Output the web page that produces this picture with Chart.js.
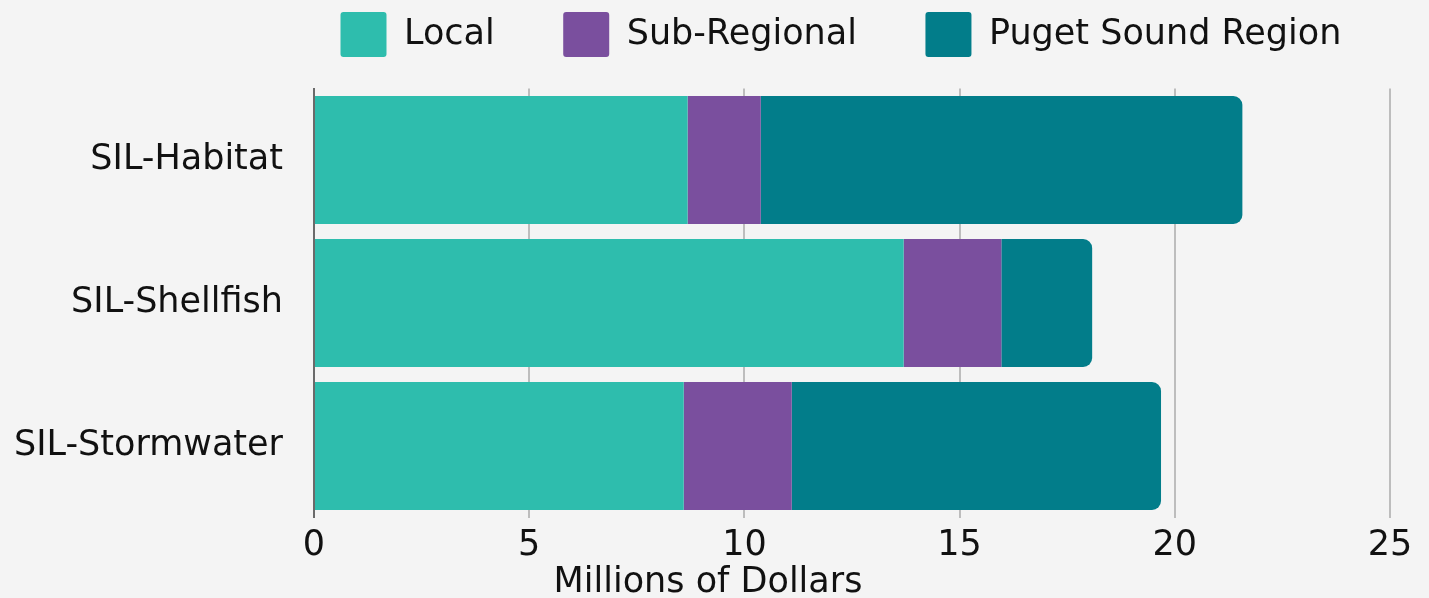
<!DOCTYPE html>
<html>
<head>
<meta charset="utf-8">
<script src="https://cdn.jsdelivr.net/npm/chart.js@4.4.1/dist/chart.umd.min.js"></script>
<style>
  html, body { margin: 0; padding: 0; background: #f4f4f4; }
  #wrap { width: 1429px; height: 598px; position: relative; }
  canvas { display: block; }
</style>
</head>
<body>
<div id="wrap"><canvas id="c" width="1429" height="598"></canvas></div>
<script>
const categories = ['SIL-Habitat', 'SIL-Shellfish', 'SIL-Stormwater'];
const seriesNames = ['Local', 'Sub-Regional', 'Puget Sound Region'];
const localValues = [8.68, 13.70, 8.59];
const subRegionalValues = [1.70, 2.27, 2.51];
const pugetSoundValues = [11.19, 2.11, 8.58];
const xTickValues = [0, 5, 10, 15, 20, 25];
const xAxisTitle = 'Millions of Dollars';

const FONT = "'DejaVu Sans', sans-serif";
const TEXT = '#111111';
const LEGEND_PAD = 68.5;

const legendPlacement = {
  id: 'legendPlacement',
  beforeInit(chart) {
    const origFit = chart.legend.fit;
    chart.legend.fit = function () {
      this.maxWidth = 5000;
      origFit.call(this);
      this.height = 88.5;
    };
  },
  afterLayout(chart) {
    const lg = chart.legend;
    lg.left = 340.5 - LEGEND_PAD;
    lg.right = 3000;
    lg.top = 12 - LEGEND_PAD;
    lg.bottom = 88;
  }
};

new Chart(document.getElementById('c'), {
  type: 'bar',
  data: {
    labels: categories,
    datasets: [
      { label: seriesNames[0], data: localValues, backgroundColor: '#2ebdad', borderWidth: 0 },
      { label: seriesNames[1], data: subRegionalValues, backgroundColor: '#7a4f9e', borderWidth: 0 },
      { label: seriesNames[2], data: pugetSoundValues, backgroundColor: '#027d8a', borderWidth: 0,
        borderRadius: 9, borderSkipped: 'start' }
    ]
  },
  options: {
    indexAxis: 'y',
    responsive: false,
    animation: false,
    events: [],
    categoryPercentage: 1,
    barPercentage: 0.895,
    layout: { padding: { top: 0, left: 8, right: 21, bottom: 0 } },
    scales: {
      x: {
        stacked: true,
        min: 0,
        max: 25,
        afterBuildTicks(scale) { scale.ticks = xTickValues.map(v => ({ value: v })); },
        afterFit(scale) { scale.paddingRight = 39; },
        grid: { color: '#bdbdbd', lineWidth: 2, drawTicks: false },
        border: { display: false },
        ticks: { color: TEXT, padding: 9.25, font: { family: FONT, size: 35, lineHeight: 1.1 }, maxRotation: 0 }
      },
      y: {
        stacked: true,
        afterFit(scale) { scale.width = 306; },
        grid: { display: false, drawTicks: false },
        border: { display: true, color: '#6a6a6a', width: 2 },
        ticks: { color: TEXT, padding: 31, font: { family: FONT, size: 35 } }
      }
    },
    plugins: {
      tooltip: { enabled: false },
      legend: {
        position: 'top',
        fullSize: false,
        align: 'start',
        labels: {
          color: TEXT,
          boxWidth: 46,
          boxHeight: 45,
          padding: LEGEND_PAD,
          useBorderRadius: true,
          borderRadius: 3,
          font: { family: FONT, size: 35 }
        }
      },
      title: {
        display: true,
        text: xAxisTitle,
        position: 'bottom',
        color: TEXT,
        padding: { top: 1.5, bottom: 8 },
        font: { family: FONT, size: 35, weight: 'normal', lineHeight: 0.4 }
      }
    }
  },
  plugins: [legendPlacement, {
    id: 'bg',
    beforeDraw(chart) {
      const ctx = chart.ctx;
      ctx.save();
      ctx.fillStyle = '#f4f4f4';
      ctx.fillRect(0, 0, chart.width, chart.height);
      ctx.restore();
    }
  }]
});
</script>
</body>
</html>
